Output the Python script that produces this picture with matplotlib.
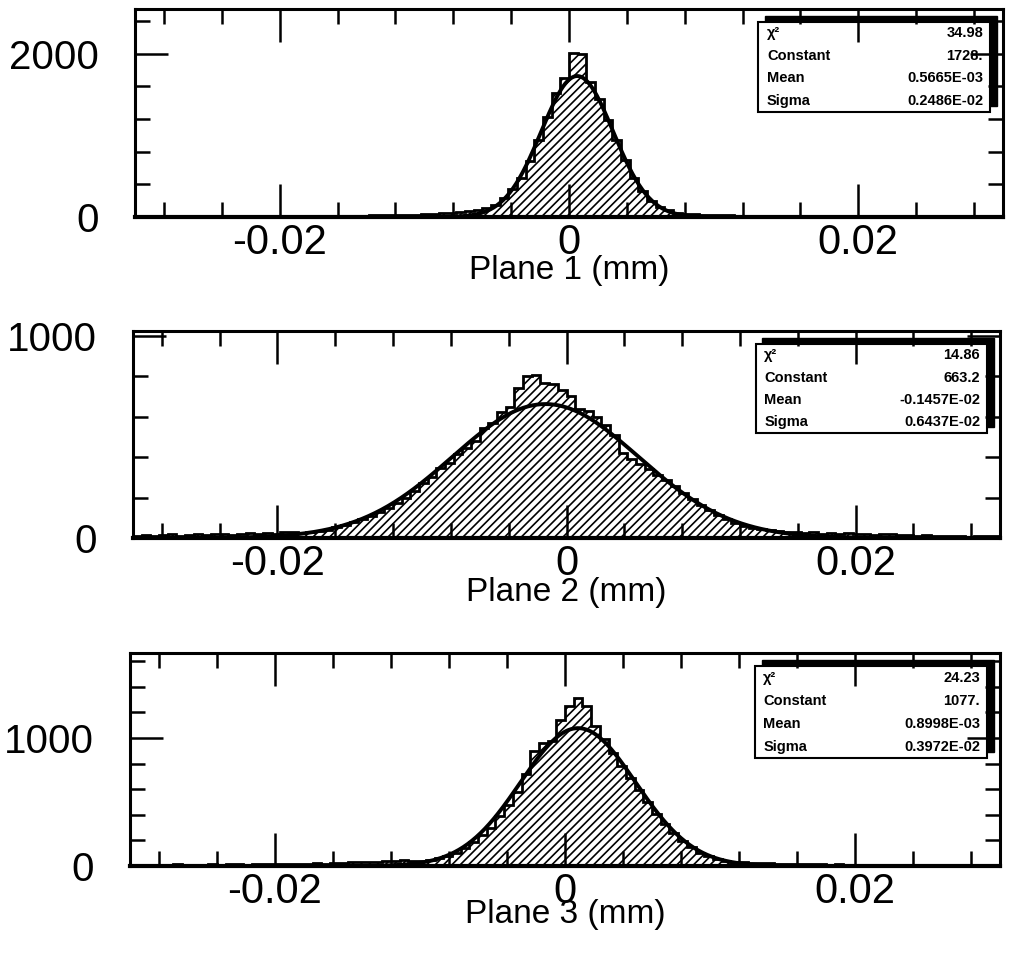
import numpy as np
import matplotlib
matplotlib.use('Agg')
import matplotlib.pyplot as plt
from matplotlib.patches import Rectangle
from matplotlib.ticker import MultipleLocator, FuncFormatter

plt.rcParams['font.family'] = ['Liberation Sans', 'DejaVu Sans']
plt.rcParams['hatch.linewidth'] = 1.2

# bins: 100 bins from -0.03 to 0.03 mm
edges = np.linspace(-0.03, 0.03, 101)

# histogram contents
plane1 = [5, 4, 6, 5, 7, 6, 5, 8, 6, 7,
          8, 7, 9, 8, 10, 9, 11, 10, 12, 11,
          13, 12, 14, 15, 14, 16, 18, 20, 22, 25,
          25, 28, 30, 34, 38, 45, 55, 62, 70, 82,
          105, 150, 230, 340, 480, 690, 940, 1230, 1520, 1710,
          2010, 2000, 1650, 1450, 1190, 940, 700, 480, 320, 200,
          125, 80, 55, 42, 36, 30, 26, 22, 20, 18,
          16, 15, 14, 12, 13, 11, 12, 10, 9, 10,
          9, 8, 9, 7, 8, 7, 6, 7, 6, 5,
          6, 5, 6, 4, 5, 4, 5, 4, 3, 4]
plane2 = [12, 15, 10, 14, 18, 12, 16, 20, 14, 18,
          22, 15, 20, 24, 18, 25, 22, 28, 30, 26,
          30, 34, 42, 52, 62, 78, 92, 110, 130, 150,
          172, 200, 232, 270, 300, 345, 372, 415, 445, 480,
          545, 570, 625, 648, 742, 800, 805, 768, 765, 735,
          705, 640, 628, 598, 560, 512, 420, 392, 368, 340,
          312, 285, 258, 225, 195, 162, 138, 112, 92, 72,
          60, 50, 44, 38, 34, 30, 28, 25, 30, 22,
          26, 20, 24, 18, 22, 16, 20, 18, 14, 16,
          12, 15, 10, 12, 8, 10, 6, 9, 8, 12]
plane3 = [8, 6, 10, 7, 9, 12, 8, 11, 9, 13,
          10, 12, 14, 11, 15, 13, 16, 14, 18, 15,
          17, 20, 18, 22, 25, 28, 32, 30, 35, 40,
          42, 45, 40, 38, 50, 62, 80, 105, 140, 185,
          240, 300, 390, 480, 580, 720, 900, 960, 980, 1140,
          1250, 1310, 1250, 1090, 990, 880, 780, 690, 590, 500,
          410, 330, 255, 195, 145, 105, 75, 55, 40, 32,
          28, 25, 22, 20, 18, 16, 15, 14, 13, 12,
          11, 12, 10, 9, 11, 8, 10, 9, 7, 8,
          9, 6, 8, 7, 6, 8, 5, 7, 6, 5]

xlabels = ['Plane 1 (mm)', 'Plane 2 (mm)', 'Plane 3 (mm)']
chi2 = ['34.98', '14.86', '24.23']
const = ['1728.', '663.2', '1077.']
mean = ['0.5665E-03', '-0.1457E-02', '0.8998E-03']
sigma = ['0.2486E-02', '0.6437E-02', '0.3972E-02']
ymax = [2550, 1025, 1664]
ymajor = [2000, 1000, 1000]
yminor = [400, 200, 200]

W, H = 1009, 961
# axes frames in pixels: left, top, right, bottom
frames = [(135, 9, 1003, 217), (133, 331, 1000, 538), (130, 653, 1000, 866)]
label_off = [54, 54, 49]

fig = plt.figure(figsize=(W / 100, H / 100), dpi=100)
xfit = np.linspace(-0.03, 0.03, 800)

for k, vals in enumerate([plane1, plane2, plane3]):
    l, t, r, b = frames[k]
    ax = fig.add_axes([l / W, 1 - b / H, (r - l) / W, (b - t) / H])

    # histogram with hatch
    ax.stairs(vals, edges, fill=True, facecolor='white', edgecolor='black',
              hatch='////', linewidth=2, zorder=1)

    # gaussian fit from the box parameters
    c, m, s = float(const[k]), float(mean[k]), float(sigma[k])
    ax.plot(xfit, c * np.exp(-0.5 * ((xfit - m) / s) ** 2), color='black', lw=2.8, zorder=2)

    ax.set_xlim(-0.03, 0.03)
    ax.set_ylim(0, ymax[k])
    ax.xaxis.set_major_locator(MultipleLocator(0.02))
    ax.xaxis.set_minor_locator(MultipleLocator(0.004))
    ax.yaxis.set_major_locator(MultipleLocator(ymajor[k]))
    ax.yaxis.set_minor_locator(MultipleLocator(yminor[k]))
    ax.xaxis.set_major_formatter(FuncFormatter(lambda v, p: '0' if abs(v) < 1e-9 else '%g' % v))
    ax.yaxis.set_major_formatter(FuncFormatter(lambda v, p: '%d' % v))
    ax.tick_params(which='both', direction='in', top=True, right=True, width=1.8)
    ax.tick_params(which='major', length=24)
    ax.tick_params(which='minor', length=11)
    ax.tick_params(axis='x', pad=4, labelsize=30)
    ax.tick_params(axis='y', pad=26, labelsize=29)
    for sp in ax.spines.values():
        sp.set_linewidth(2.2)
    ax.spines['bottom'].set_linewidth(3)

    ax.set_xlabel(xlabels[k], fontsize=24)
    ax.xaxis.label.set_va('center')
    ax.xaxis.set_label_coords(0.5, -label_off[k] / (b - t))

    # stats box with shadow
    x0, x1, y0, y1 = 0.718, 0.985, 0.505, 0.9375
    ax.add_patch(Rectangle((x0 + 0.008, y0 + 0.029), x1 - x0, y1 - y0, transform=ax.transAxes,
                           facecolor='black', edgecolor='black', zorder=1.2, clip_on=False))
    ax.add_patch(Rectangle((x0, y0), x1 - x0, y1 - y0, transform=ax.transAxes,
                           facecolor='white', edgecolor='black', lw=1.5, zorder=1.25, clip_on=False))
    names = ['χ²', 'Constant', 'Mean', 'Sigma']
    nums = [chi2[k], const[k], mean[k], sigma[k]]
    for i in range(4):
        yy = y1 - (i + 0.5) * (y1 - y0) / 4
        ax.text(x0 + 0.01, yy, names[i], transform=ax.transAxes, fontsize=10.5,
                fontweight='bold', va='center', ha='left', zorder=1.3)
        ax.text(x1 - 0.008, yy, nums[i], transform=ax.transAxes, fontsize=10.5,
                fontweight='bold', va='center', ha='right', zorder=1.3)

fig.savefig('out.png', dpi=100)
